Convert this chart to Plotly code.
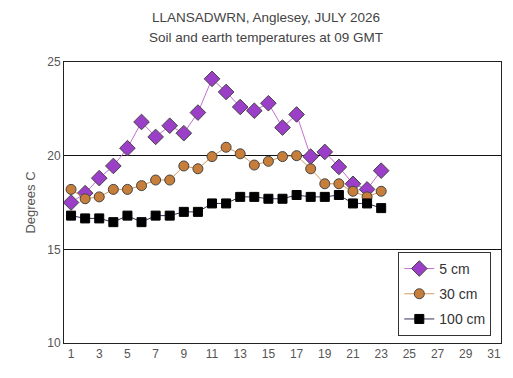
import plotly.graph_objects as go

days = list(range(1, 24))
cm5 = [17.5, 18.0, 18.8, 19.45, 20.4, 21.8, 21.0, 21.6, 21.2, 22.3, 24.1, 23.4,
       22.6, 22.4, 22.8, 21.5, 22.2, 19.95, 20.2, 19.4, 18.5, 18.2, 19.2]
cm30 = [18.2, 17.7, 17.8, 18.2, 18.2, 18.4, 18.7, 18.7, 19.45, 19.3, 19.95, 20.45,
        20.1, 19.5, 19.7, 19.95, 20.0, 19.3, 18.5, 18.5, 18.1, 17.8, 18.1]
cm100 = [16.8, 16.65, 16.65, 16.45, 16.8, 16.45, 16.8, 16.8, 17.0, 17.0, 17.45, 17.45,
         17.8, 17.8, 17.7, 17.7, 17.9, 17.8, 17.8, 17.9, 17.45, 17.45, 17.2]
x_ticks = list(range(1, 32, 2))
y_ticks = [10, 15, 20, 25]

fig = go.Figure()
fig.add_trace(go.Scatter(x=days, y=cm5, name="5 cm", mode="lines+markers", legendgroup="a",
                         line=dict(color="#c46fd0", width=1),
                         marker=dict(symbol="diamond", size=12, color="#9c3fc8",
                                     line=dict(color="#444444", width=1))))
fig.add_trace(go.Scatter(x=days, y=cm30, name="30 cm", mode="lines+markers", legendgroup="b",
                         line=dict(color="#d39a5e", width=1),
                         marker=dict(symbol="circle", size=10, color="#c77e3a",
                                     line=dict(color="#444444", width=1))))
fig.add_trace(go.Scatter(x=days, y=cm100, name="100 cm", mode="lines+markers", legendgroup="c",
                         line=dict(color="#333355", width=1),
                         marker=dict(symbol="square", size=9, color="#000000",
                                     line=dict(color="#000000", width=1))))

fig.update_layout(
    width=513, height=378,
    margin=dict(l=64, r=12, t=62, b=35),
    paper_bgcolor="white", plot_bgcolor="white",
    font=dict(family="Arial, Liberation Sans, sans-serif", color="#444444", size=12),
    annotations=[
        dict(text="LLANSADWRN, Anglesey, JULY 2026", xref="paper", yref="paper",
             x=0.462, y=1.0, yshift=45, xanchor="center", yanchor="middle", showarrow=False,
             font=dict(size=13.5, color="#444444")),
        dict(text="Soil and earth temperatures at 09 GMT", xref="paper", yref="paper",
             x=0.462, y=1.0, yshift=25, xanchor="center", yanchor="middle", showarrow=False,
             font=dict(size=13.5, color="#444444")),
    ],
    xaxis=dict(range=[0.5, 31.5], tickvals=x_ticks, ticks="", showgrid=False,
               zeroline=False, showline=True, linecolor="#222222", linewidth=1,
               mirror=True, tickfont=dict(size=12, color="#555555")),
    yaxis=dict(range=[10, 25], tickvals=y_ticks, ticks="", showgrid=True,
               gridcolor="#111111", gridwidth=1, zeroline=False, showline=True,
               linecolor="#222222", linewidth=1, mirror=True,
               title=dict(text="Degrees C", font=dict(size=13, color="#555555"), standoff=8),
               tickfont=dict(size=12, color="#555555")),
    legend=dict(x=0.765, y=0.324, xanchor="left", yanchor="top",
                bordercolor="#333333", borderwidth=1, bgcolor="white",
                font=dict(size=14, color="#333333"), tracegroupgap=4),
    showlegend=True,
)

fig.write_html("out.html")
